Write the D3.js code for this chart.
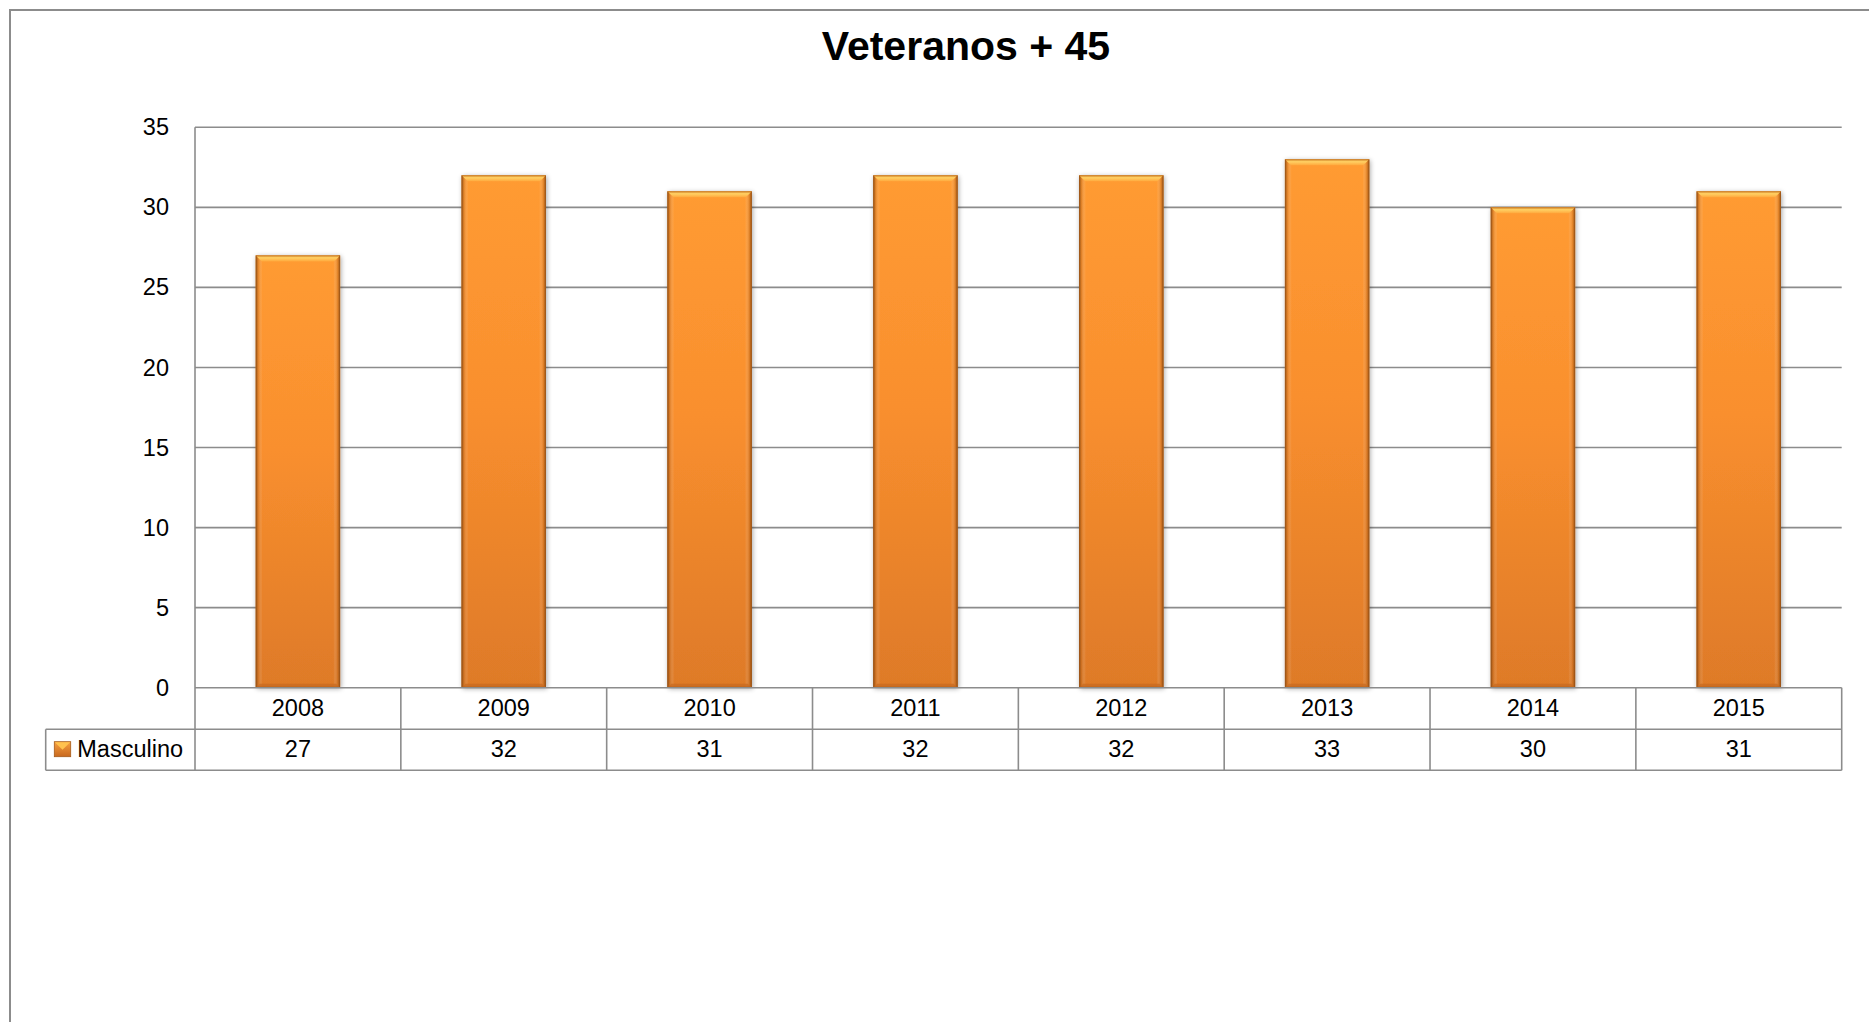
<!DOCTYPE html>
<html>
<head>
<meta charset="utf-8">
<script src="https://cdn.jsdelivr.net/npm/d3@7"></script>
<style>
  html, body { margin: 0; padding: 0; background: #fff; }
  svg { display: block; }
  text { font-family: "Liberation Sans", Arial, sans-serif; fill: #000; }
</style>
</head>
<body>
<svg id="chart" width="1869" height="1022"></svg>
<script>
const title = "Veteranos + 45";
const seriesName = "Masculino";
const categories = ["2008", "2009", "2010", "2011", "2012", "2013", "2014", "2015"];
const values = [27, 32, 31, 32, 32, 33, 30, 31];
const yTicks = [0, 5, 10, 15, 20, 25, 30, 35];

(function () {
const svg = d3.select("#chart");
const W = 1869, H = 1022;
const pLeft = 195, pRight = 1841.7, pTop = 127.3, pBottom = 687.7;
const row1 = 729.3, row2 = 770.3, legendLeft = 45.7;
const gridColor = "#8c8c8c";

// defs
const defs = svg.append("defs");
const vg = defs.append("linearGradient").attr("id", "barV").attr("x1", 0).attr("y1", 0).attr("x2", 0).attr("y2", 1);
vg.append("stop").attr("offset", "0%").attr("stop-color", "#ff9b32");
vg.append("stop").attr("offset", "45%").attr("stop-color", "#f98f2e");
vg.append("stop").attr("offset", "100%").attr("stop-color", "#de7a28");
const hg = defs.append("linearGradient").attr("id", "barH").attr("x1", 0).attr("y1", 0).attr("x2", 1).attr("y2", 0);
hg.append("stop").attr("offset", "0%").attr("stop-color", "#7a400e").attr("stop-opacity", 0.9);
hg.append("stop").attr("offset", "3%").attr("stop-color", "#b8641c").attr("stop-opacity", 0.4);
hg.append("stop").attr("offset", "8%").attr("stop-color", "#ffffff").attr("stop-opacity", 0);
hg.append("stop").attr("offset", "92%").attr("stop-color", "#ffffff").attr("stop-opacity", 0);
hg.append("stop").attr("offset", "97%").attr("stop-color", "#b8641c").attr("stop-opacity", 0.4);
hg.append("stop").attr("offset", "100%").attr("stop-color", "#7a400e").attr("stop-opacity", 0.9);
const bg = defs.append("linearGradient").attr("id", "bevel").attr("x1", 0).attr("y1", 0).attr("x2", 0).attr("y2", 1);
bg.append("stop").attr("offset", "0%").attr("stop-color", "#f0a53a");
bg.append("stop").attr("offset", "40%").attr("stop-color", "#ffd064");
bg.append("stop").attr("offset", "100%").attr("stop-color", "#ffa83c");
const filt = defs.append("filter").attr("id", "shadow").attr("x", "-10%").attr("y", "-5%").attr("width", "120%").attr("height", "110%");
filt.append("feGaussianBlur").attr("in", "SourceAlpha").attr("stdDeviation", 2.5);
filt.append("feOffset").attr("dx", 1).attr("dy", 1).attr("result", "b");
filt.append("feComponentTransfer").append("feFuncA").attr("type", "linear").attr("slope", 0.35);
const fm = filt.append("feMerge");
fm.append("feMergeNode");
fm.append("feMergeNode").attr("in", "SourceGraphic");

const lg = defs.append("linearGradient").attr("id", "legV").attr("x1", 0).attr("y1", 0).attr("x2", 0).attr("y2", 1);
lg.append("stop").attr("offset", "0%").attr("stop-color", "#f7a040");
lg.append("stop").attr("offset", "100%").attr("stop-color", "#c8681e");

// outer chart border (left & top)
svg.append("path")
  .attr("d", `M10,${H} L10,10 L${W},10`)
  .attr("fill", "none").attr("stroke", "#8c8c8c").attr("stroke-width", 2);

// title
svg.append("text")
  .attr("x", 966).attr("y", 60)
  .attr("text-anchor", "middle")
  .attr("font-size", 41).attr("font-weight", "bold")
  .text(title);

const x = d3.scaleBand().domain(categories).range([pLeft, pRight]).paddingInner(0.59).paddingOuter(0.295);
const xCells = d3.scaleBand().domain(categories).range([pLeft, pRight]);
const y = d3.scaleLinear().domain([0, 35]).range([pBottom, pTop]);

// gridlines
svg.append("g").selectAll("line").data(yTicks.filter(d => d > 0)).join("line")
  .attr("x1", pLeft).attr("x2", pRight)
  .attr("y1", d => y(d)).attr("y2", d => y(d))
  .attr("stroke", gridColor).attr("stroke-width", 1.6);

// y axis via d3
const yAxis = d3.axisLeft(y).tickValues(yTicks).tickSize(0).tickPadding(26);
const ya = svg.append("g").attr("transform", `translate(${pLeft},0)`).call(yAxis);
ya.select(".domain").remove();
ya.selectAll("text").attr("font-size", 23.5).attr("font-family", "Liberation Sans, Arial, sans-serif").attr("fill", "#000");

// bars
const bars = svg.append("g").selectAll("g").data(values).join("g");
bars.each(function(d, i) {
  const g = d3.select(this);
  const bx = x(categories[i]), bw = x.bandwidth();
  const by = y(d), bh = y(0) - y(d);
  g.append("rect").attr("x", bx).attr("y", by).attr("width", bw).attr("height", bh)
    .attr("fill", "url(#barV)").attr("filter", "url(#shadow)");
  g.append("rect").attr("x", bx).attr("y", by).attr("width", bw).attr("height", bh)
    .attr("fill", "url(#barH)");
  const bv = 6;
  g.append("path")
    .attr("d", `M${bx},${by} L${bx + bw},${by} L${bx + bw - bv},${by + bv} L${bx + bv},${by + bv} Z`)
    .attr("fill", "url(#bevel)");
  g.append("path")
    .attr("d", `M${bx},${by + bh} L${bx + bw},${by + bh} L${bx + bw - 4},${by + bh - 4} L${bx + 4},${by + bh - 4} Z`)
    .attr("fill", "#c96c22").attr("opacity", 0.8);
  g.append("rect").attr("x", bx + 0.5).attr("y", by + 0.5).attr("width", bw - 1).attr("height", bh - 1)
    .attr("fill", "none").attr("stroke", "#a45a1a").attr("stroke-width", 1).attr("opacity", 0.6);
});

// data table lines
const tl = svg.append("g").attr("stroke", gridColor).attr("stroke-width", 1.6).attr("fill", "none");
tl.append("line").attr("x1", pLeft).attr("x2", pRight).attr("y1", pBottom).attr("y2", pBottom);
tl.append("line").attr("x1", legendLeft).attr("x2", pRight).attr("y1", row1).attr("y2", row1);
tl.append("line").attr("x1", legendLeft).attr("x2", pRight).attr("y1", row2).attr("y2", row2);
tl.append("line").attr("x1", legendLeft).attr("x2", legendLeft).attr("y1", row1).attr("y2", row2);
tl.append("line").attr("x1", pLeft).attr("x2", pLeft).attr("y1", pTop).attr("y2", row2);
tl.selectAll("line.v").data(categories).join("line").attr("class", "v")
  .attr("x1", d => xCells(d) + xCells.bandwidth()).attr("x2", d => xCells(d) + xCells.bandwidth())
  .attr("y1", pBottom).attr("y2", row2);

// category labels
svg.append("g").selectAll("text").data(categories).join("text")
  .attr("x", d => xCells(d) + xCells.bandwidth() / 2)
  .attr("y", (pBottom + row1) / 2 + 7.5)
  .attr("text-anchor", "middle").attr("font-size", 23.5)
  .text(d => d);

// values
svg.append("g").selectAll("text").data(values).join("text")
  .attr("x", (d, i) => xCells(categories[i]) + xCells.bandwidth() / 2)
  .attr("y", (row1 + row2) / 2 + 7.5)
  .attr("text-anchor", "middle").attr("font-size", 23.5)
  .text(d => d);

// legend key
const ky = 741.7;
svg.append("rect").attr("x", 54.3).attr("y", ky).attr("width", 16.4).attr("height", 15)
  .attr("fill", "url(#legV)").attr("stroke", "#a45a1a").attr("stroke-width", 0.8);
svg.append("path").attr("d", `M54.8,${ky + 0.5} L70.2,${ky + 0.5} L62.5,${ky + 8} Z`).attr("fill", "#ffc24e");
svg.append("text").attr("x", 77.3).attr("y", (row1 + row2) / 2 + 7.5)
  .attr("font-size", 23.5).text(seriesName);
})();
</script>
</body>
</html>
